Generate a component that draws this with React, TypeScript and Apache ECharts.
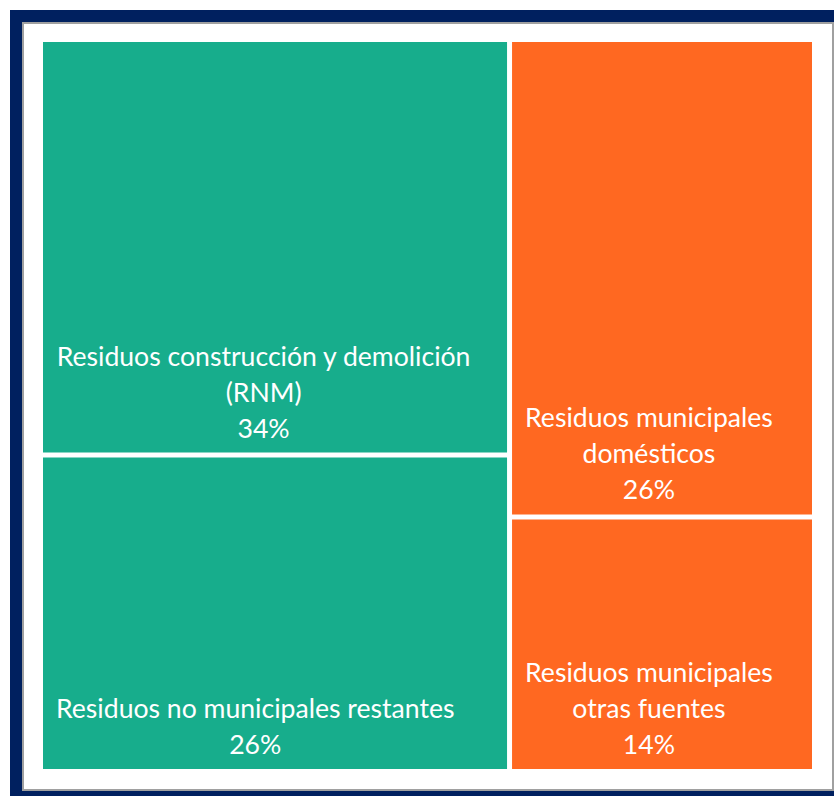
import React, { useEffect, useRef } from 'react';
import * as echarts from 'echarts';

const groupNames = ['Residuos no municipales', 'Residuos municipales'];
const groupColors = ['#17AD8C', '#FF6821'];
const categories = [
  'Residuos construcción y demolición\n(RNM)',
  'Residuos no municipales restantes',
  'Residuos municipales\ndomésticos',
  'Residuos municipales\notras fuentes',
];
const values = [34.4, 26.2, 25.7, 13.7];
const groupOfCategory = [0, 0, 1, 1];

const FONT_FAMILY = 'Lato';
const FONT_SIZE = 26.6;
const LINE_HEIGHT = 36;
const LABEL_PAD = 13;

function widestLine(text: string): number {
  const ctx = document.createElement('canvas').getContext('2d');
  if (!ctx) return 0;
  ctx.font = `${FONT_SIZE}px ${FONT_FAMILY}`;
  return Math.max(...text.split('\n').map((l) => ctx.measureText(l).width));
}

export default function App() {
  const ref = useRef<HTMLDivElement>(null);
  useEffect(() => {
    if (!ref.current) return;
    const chart = echarts.init(ref.current, null, { renderer: 'svg' });
    const data = groupNames.map((g, gi) => ({
      name: g,
      itemStyle: { color: groupColors[gi] },
      children: categories
        .map((c, i) => ({ c, i }))
        .filter((o) => groupOfCategory[o.i] === gi)
        .map(({ c, i }) => {
          const w = widestLine(`${c}\n${Math.round(values[i])}%`);
          return {
            name: c,
            value: values[i],
            itemStyle: { color: groupColors[gi] },
            label: { position: [LABEL_PAD + w / 2, '100%'] },
          };
        }),
    }));
    chart.setOption({
      animation: false,
      backgroundColor: '#ffffff',
      graphic: [
        {
          type: 'rect',
          z: 0,
          silent: true,
          shape: { x: 10, y: 10, width: 824, height: 786 },
          style: { fill: '#00205F' },
        },
        {
          type: 'rect',
          z: 0,
          silent: true,
          shape: { x: 23, y: 23, width: 810, height: 767 },
          style: { fill: '#ffffff', stroke: '#a0a0a0', lineWidth: 2 },
        },
      ],
      series: [
        {
          type: 'treemap',
          z: 5,
          left: 43,
          top: 42,
          width: 769,
          height: 727,
          squareRatio: 1,
          roam: false,
          nodeClick: false,
          silent: true,
          breadcrumb: { show: false },
          emphasis: { disabled: true },
          upperLabel: { show: false },
          label: {
            show: true,
            formatter: (p: any) => `${p.name}\n${Math.round(p.value)}%`,
            color: '#ffffff',
            fontFamily: FONT_FAMILY,
            fontSize: FONT_SIZE,
            lineHeight: LINE_HEIGHT,
            align: 'center',
            verticalAlign: 'bottom',
            offset: [0, -2],
          },
          itemStyle: { borderWidth: 0, gapWidth: 0 },
          levels: [
            { itemStyle: { borderWidth: 0, gapWidth: 5 } },
            { itemStyle: { borderWidth: 0, gapWidth: 5 } },
            { itemStyle: { borderWidth: 0, gapWidth: 0 } },
          ],
          data,
        },
      ],
    });
    return () => chart.dispose();
  }, []);
  return (
    <div
      ref={ref}
      style={{ position: 'fixed', left: 0, top: 0, width: 834, height: 796 }}
    />
  );
}
